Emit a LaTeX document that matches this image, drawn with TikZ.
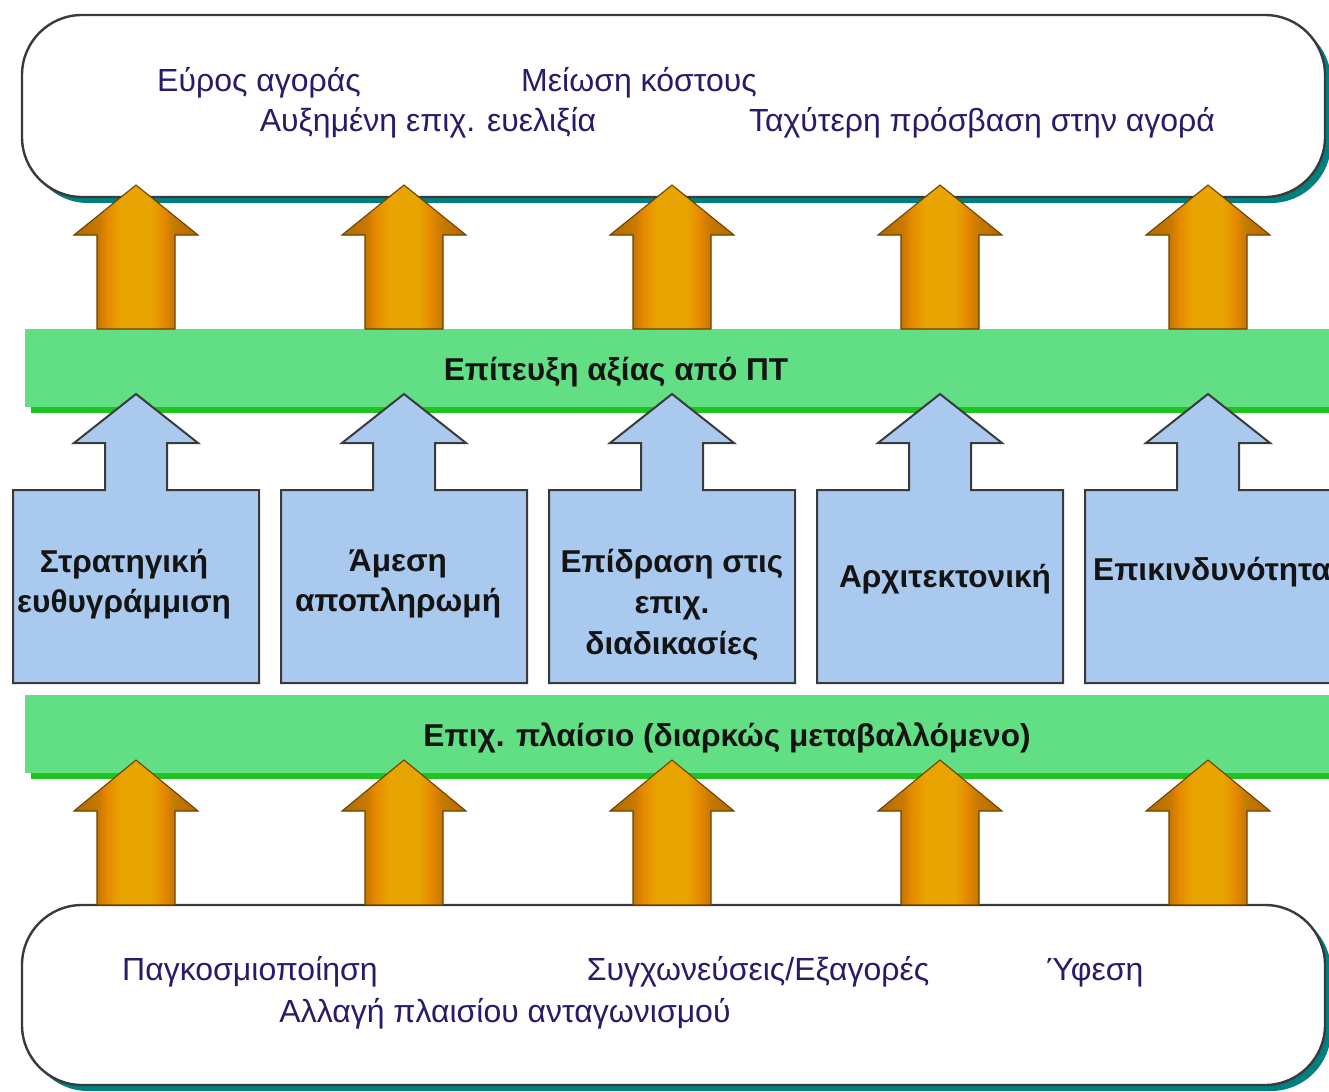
\documentclass[tikz,border=0pt]{standalone}
\usepackage{fontspec}
\setmainfont{Liberation Sans}
\definecolor{tealsh}{HTML}{007F7F}
\definecolor{boxline}{HTML}{3A3A3A}
\definecolor{bandgreen}{HTML}{62DF85}
\definecolor{bandsh}{HTML}{1FC41F}
\definecolor{boxblue}{HTML}{A9C9EF}
\definecolor{navytxt}{HTML}{2B1A6A}
\definecolor{darktxt}{HTML}{141414}
\definecolor{orEdge}{HTML}{B06A00}
\definecolor{orDark}{HTML}{C87A00}
\definecolor{orMid}{HTML}{E58900}
\definecolor{orLight}{HTML}{E8A400}
\definecolor{orBorder}{HTML}{6A4000}
\pgfdeclarehorizontalshading{orangebar}{100bp}{color(0bp)=(orEdge); color(25bp)=(orEdge); color(35bp)=(orDark); color(38bp)=(orMid); color(44bp)=(orLight); color(56bp)=(orLight); color(61bp)=(orMid); color(65bp)=(orDark); color(75bp)=(orEdge); color(100bp)=(orEdge)}
\begin{document}
\begin{tikzpicture}[x=0.75pt,y=-0.75pt,
  roundbox/.style={draw=boxline, line width=1.8pt, fill=white, rounded corners=45pt},
  shadowbox/.style={fill=tealsh, rounded corners=45pt},
  orarrow/.style={draw=orBorder, line width=0.8pt, shade, shading=orangebar},
  bluebox/.style={draw=boxline, line width=1.5pt, fill=boxblue},
  plaintxt/.style={text=navytxt, font=\fontsize{24}{28}\selectfont, anchor=base, inner sep=0pt},
  boxtxt/.style={text=darktxt, font=\bfseries\fontsize{23.7}{30.5}\selectfont, align=center, inner sep=0pt},
  bandtxt/.style={text=darktxt, font=\bfseries\fontsize{23.7}{28}\selectfont, inner sep=0pt}]
\useasboundingbox (0,0) rectangle (1329,1092);

% top rounded box
\fill[shadowbox] (28,21) rectangle (1331,203);
\draw[roundbox] (22,15) rectangle (1325,197);
\node[plaintxt] (t1) at (259,91) {Εύρος αγοράς};
\node[plaintxt] (t2) at (639,91) {Μείωση κόστους};
\node[plaintxt] (t3) at (428,131) {Αυξημένη επιχ. ευελιξία};
\node[plaintxt] (t4) at (982,131) {Ταχύτερη πρόσβαση στην αγορά};

% green band 1
\fill[bandsh] (31,335) rectangle (1340,413);
\fill[bandgreen] (25,329) rectangle (1340,407);
\node[bandtxt] (g1) at (616,372) {Επίτευξη αξίας από ΠΤ};

% top orange arrows
\foreach \c in {136,404,672,940,1208} {
  \draw[orarrow] (\c,185) -- (\c+62,235) -- (\c+39,235) -- (\c+39,329) -- (\c-39,329) -- (\c-39,235) -- (\c-62,235) -- cycle;
}

% blue boxes with arrows
\foreach \c in {136,404,672,940,1208} {
  \draw[bluebox] (\c-123,683) -- (\c-123,490) -- (\c-31,490) -- (\c-31,443) -- (\c-62,443) -- (\c,394) -- (\c+62,443) -- (\c+31,443) -- (\c+31,490) -- (\c+123,490) -- (\c+123,683) -- cycle;
}
\node[boxtxt] (b1) at (124,584) {Στρατηγική\\ευθυγράμμιση};
\node[boxtxt] (b2) at (398,584) {Άμεση\\αποπληρωμή};
\node[boxtxt] (b3) at (672,605) {Επίδραση στις\\επιχ.\\διαδικασίες};
\node[boxtxt] (b4) at (945,579) {Αρχιτεκτονική};
\node[boxtxt] (b5) at (1212,572) {Επικινδυνότητα};

% green band 2
\fill[bandsh] (31,701) rectangle (1340,779);
\fill[bandgreen] (25,695) rectangle (1340,773);
\node[bandtxt] (g2) at (727,738) {Επιχ. πλαίσιο (διαρκώς μεταβαλλόμενο)};

% bottom rounded box
\fill[shadowbox] (28,911) rectangle (1331,1091);
\draw[roundbox] (22,905) rectangle (1325,1085);

% bottom orange arrows
\foreach \c in {136,404,672,940,1208} {
  \draw[orarrow] (\c,760) -- (\c+62,811) -- (\c+39,811) -- (\c+39,905) -- (\c-39,905) -- (\c-39,811) -- (\c-62,811) -- cycle;
}

\node[plaintxt] (s1) at (250,980) {Παγκοσμιοποίηση};
\node[plaintxt] (s2) at (758,980) {Συγχωνεύσεις/Εξαγορές};
\node[plaintxt] (s3) at (1095,980) {Ύφεση};
\node[plaintxt] (s4) at (505,1022) {Αλλαγή πλαισίου ανταγωνισμού};
\end{tikzpicture}
\end{document}
